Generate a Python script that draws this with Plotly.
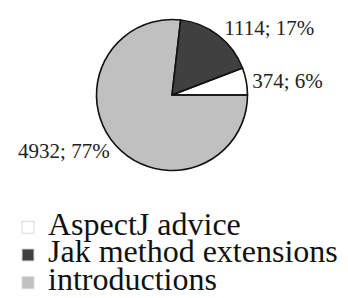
import plotly.graph_objects as go

categories = ["AspectJ advice", "Jak method extensions", "introductions"]
values = [374, 1114, 4932]
colors = ["#ffffff", "#404040", "#c0c0c0"]

W, H = 348, 298
OFF = 8  # default page body margin
cx, cy, r = 172 - OFF, 95 - OFF, 75.5
dom_x = [(cx - r) / W, (cx + r) / W]
dom_y = [(H - cy - r) / H, (H - cy + r) / H]

# first slice should sit just above 3 o'clock, slices run counterclockwise
rot = 90 - 360 * values[0] / sum(values)

legend_labels = ['<span style="font-size:32px">%s</span>' % c for c in categories]

common = dict(labels=legend_labels, values=values, sort=False,
              direction="counterclockwise", rotation=rot,
              domain=dict(x=dom_x, y=dom_y), hoverinfo="none")

fig = go.Figure()
fig.add_trace(go.Pie(
    **common,
    marker=dict(colors=colors, line=dict(color="#d8d8d8", width=1)),
    textposition="outside", texttemplate="%{value}; %{percent:.0%}",
    textfont=dict(family="Liberation Serif", size=21, color="#222"),
    showlegend=True,
))
fig.add_trace(go.Pie(
    **common,
    marker=dict(colors=["rgba(0,0,0,0)"] * 3, line=dict(color="#111", width=1.6)),
    textinfo="none", showlegend=False,
))
fig.update_layout(
    width=W, height=H, margin=dict(l=0, r=0, t=0, b=0),
    paper_bgcolor="white", plot_bgcolor="white",
    legend=dict(x=0.0, y=0.012, xanchor="left", yanchor="bottom",
                font=dict(family="Liberation Serif", size=19, color="#111"),
                bgcolor="rgba(0,0,0,0)", tracegroupgap=0),
)
fig.write_html("out.html")
